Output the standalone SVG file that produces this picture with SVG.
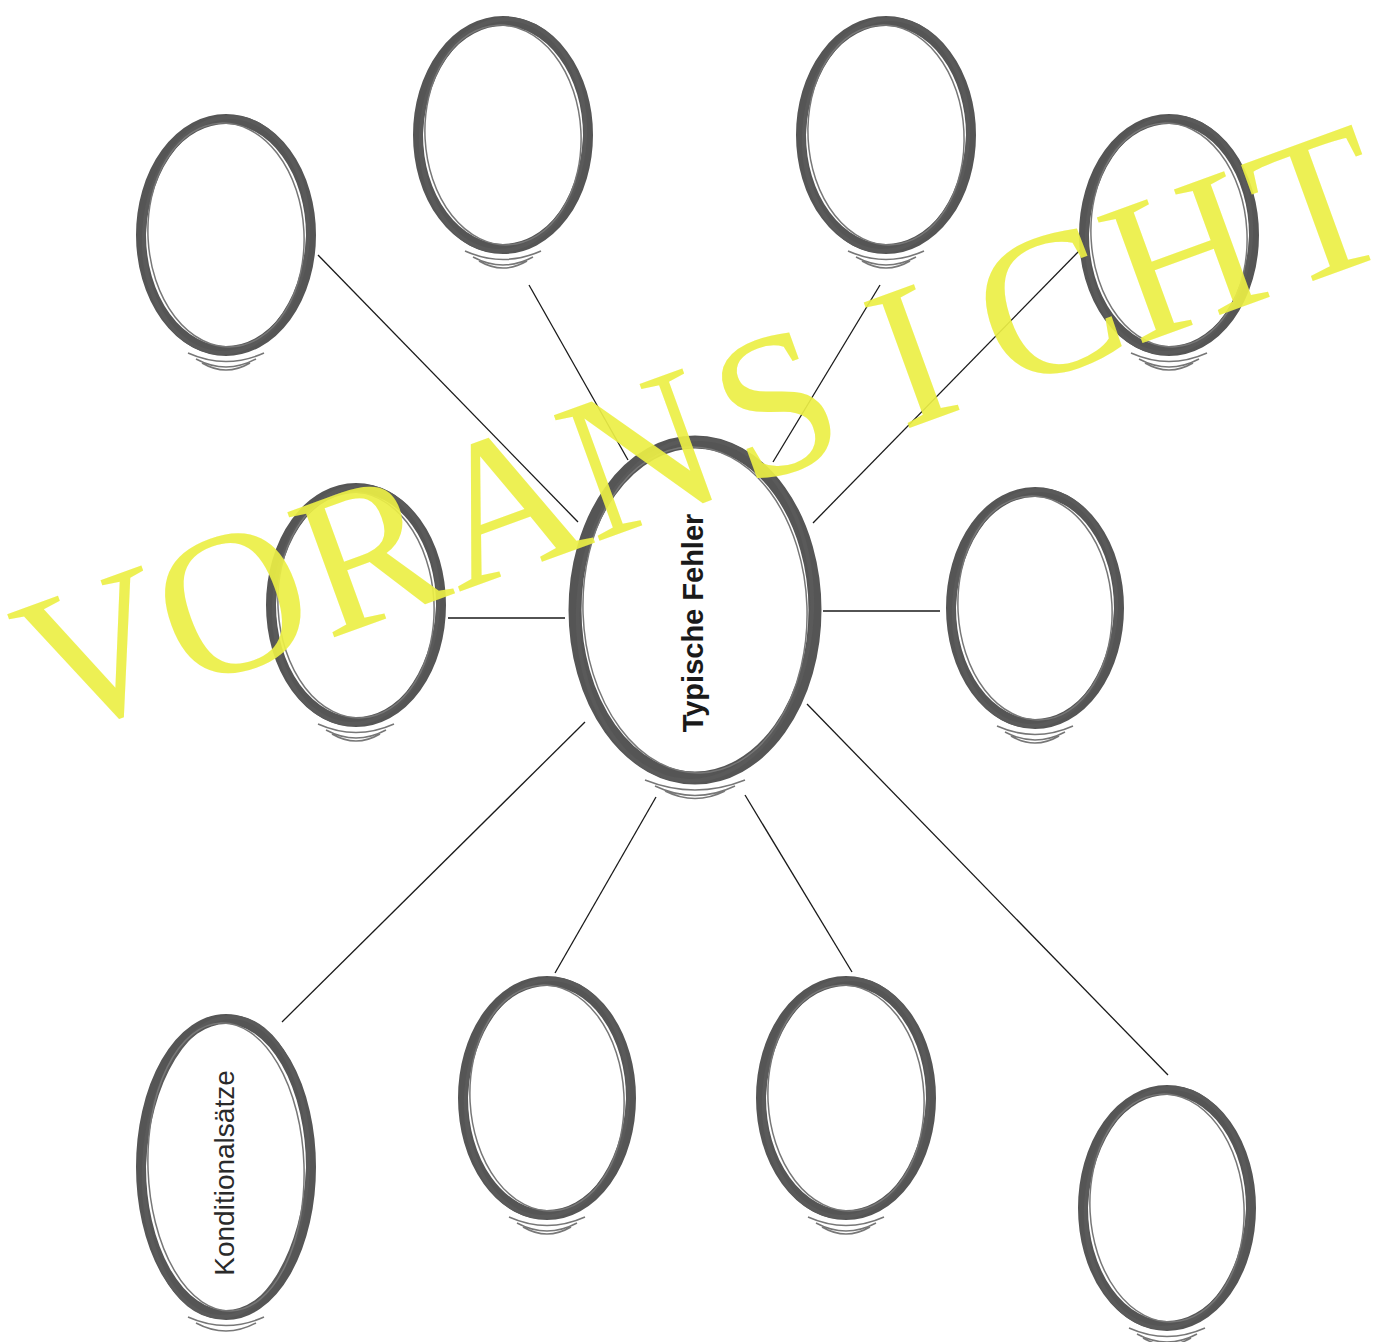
<svg xmlns="http://www.w3.org/2000/svg" width="1378" height="1342" viewBox="0 0 1378 1342">
<style>
.r1{fill:none;stroke:#555;stroke-width:10}
.r2{fill:none;stroke:#5a5a5a;stroke-width:4}
.r3{fill:none;stroke:#777;stroke-width:1.5}
.cn{stroke:#1a1a1a;stroke-width:1.3;fill:none}
.lbl{font-family:"Liberation Sans",Arial,sans-serif;fill:#1a1a1a}
.wm{font-family:"Liberation Serif","Times New Roman",serif;fill:#ecef45;fill-opacity:0.92}
</style>
<rect width="1378" height="1342" fill="#fff"/>
<g id="connectors">
<line class="cn" x1="318" y1="255" x2="578" y2="522"/>
<line class="cn" x1="529" y1="285" x2="628" y2="460"/>
<line class="cn" x1="880" y1="285" x2="773" y2="462"/>
<line class="cn" x1="1080" y1="250" x2="813" y2="523"/>
<line class="cn" x1="448" y1="618" x2="565" y2="618"/>
<line class="cn" x1="823" y1="611" x2="940" y2="611"/>
<line class="cn" x1="585" y1="722" x2="282" y2="1022"/>
<line class="cn" x1="656" y1="797" x2="555" y2="973"/>
<line class="cn" x1="745" y1="795" x2="852" y2="972"/>
<line class="cn" x1="807" y1="704" x2="1168" y2="1075"/>
</g>
<g id="node-tl" transform="translate(226,235)">
<ellipse class="r1" rx="85" ry="116"/><ellipse class="r2" rx="82" ry="118" transform="rotate(4)"/><ellipse class="r3" rx="78" ry="112" transform="rotate(-3)"/>
<path class="r3" d="M-38,118 Q0,135 38,118 M-30,124 Q0,140 30,124 M-24,128 Q0,142 24,128"/>
</g>
<g id="node-t2" transform="translate(503,135)">
<ellipse class="r1" rx="85" ry="114"/><ellipse class="r2" rx="82" ry="116" transform="rotate(4)"/><ellipse class="r3" rx="78" ry="110" transform="rotate(-3)"/>
<path class="r3" d="M-38,116 Q0,133 38,116 M-30,122 Q0,138 30,122 M-24,126 Q0,140 24,126"/>
</g>
<g id="node-t3" transform="translate(886,135)">
<ellipse class="r1" rx="85" ry="114"/><ellipse class="r2" rx="82" ry="116" transform="rotate(4)"/><ellipse class="r3" rx="78" ry="110" transform="rotate(-3)"/>
<path class="r3" d="M-38,116 Q0,133 38,116 M-30,122 Q0,138 30,122 M-24,126 Q0,140 24,126"/>
</g>
<g id="node-tr" transform="translate(1169,235)">
<ellipse class="r1" rx="85" ry="116"/><ellipse class="r2" rx="82" ry="118" transform="rotate(4)"/><ellipse class="r3" rx="78" ry="112" transform="rotate(-3)"/>
<path class="r3" d="M-38,118 Q0,135 38,118 M-30,124 Q0,140 30,124 M-24,128 Q0,142 24,128"/>
</g>
<g id="node-ml" transform="translate(356,605)">
<ellipse class="r1" rx="85" ry="117"/><ellipse class="r2" rx="82" ry="119" transform="rotate(4)"/><ellipse class="r3" rx="78" ry="113" transform="rotate(-3)"/>
<path class="r3" d="M-38,119 Q0,136 38,119 M-30,125 Q0,141 30,125 M-24,129 Q0,143 24,129"/>
</g>
<g id="node-center" transform="translate(695,610)">
<ellipse class="r1" rx="120" ry="168" style="stroke-width:13"/><ellipse class="r2" rx="117" ry="171" transform="rotate(3)"/><ellipse class="r3" rx="112" ry="163" transform="rotate(-2)"/>
<path class="r3" d="M-50,170 Q0,190 50,170 M-40,176 Q0,195 40,176 M-30,181 Q0,196 30,181"/>
<text class="lbl" transform="translate(8,13) rotate(-90)" text-anchor="middle" font-size="29" font-weight="bold">Typische Fehler</text>
</g>
<g id="node-mr" transform="translate(1035,608)">
<ellipse class="r1" rx="84" ry="116"/><ellipse class="r2" rx="81" ry="118" transform="rotate(4)"/><ellipse class="r3" rx="77" ry="112" transform="rotate(-3)"/>
<path class="r3" d="M-38,118 Q0,135 38,118 M-30,124 Q0,140 30,124 M-24,128 Q0,142 24,128"/>
</g>
<g id="node-bl" transform="translate(226,1167)">
<ellipse class="r1" rx="85" ry="148"/><ellipse class="r2" rx="82" ry="150" transform="rotate(3)"/><ellipse class="r3" rx="78" ry="144" transform="rotate(-2)"/>
<path class="r3" d="M-38,150 Q0,167 38,150 M-30,156 Q0,172 30,156"/>
<text class="lbl" transform="translate(8,6) rotate(-90)" text-anchor="middle" font-size="28" style="fill:#2a2a2a">Konditionalsätze</text>
</g>
<g id="node-b2" transform="translate(547,1098)">
<ellipse class="r1" rx="84" ry="117"/><ellipse class="r2" rx="81" ry="119" transform="rotate(4)"/><ellipse class="r3" rx="77" ry="113" transform="rotate(-3)"/>
<path class="r3" d="M-38,119 Q0,136 38,119 M-30,125 Q0,141 30,125 M-24,129 Q0,143 24,129"/>
</g>
<g id="node-b3" transform="translate(846,1098)">
<ellipse class="r1" rx="85" ry="117"/><ellipse class="r2" rx="82" ry="119" transform="rotate(4)"/><ellipse class="r3" rx="78" ry="113" transform="rotate(-3)"/>
<path class="r3" d="M-38,119 Q0,136 38,119 M-30,125 Q0,141 30,125 M-24,129 Q0,143 24,129"/>
</g>
<g id="node-br" transform="translate(1167,1208)">
<ellipse class="r1" rx="84" ry="118"/><ellipse class="r2" rx="81" ry="120" transform="rotate(4)"/><ellipse class="r3" rx="77" ry="114" transform="rotate(-3)"/>
<path class="r3" d="M-38,120 Q0,137 38,120 M-30,126 Q0,142 30,126 M-24,130 Q0,144 24,130"/>
</g>
<g id="watermark">
<text class="wm" transform="translate(52,740) rotate(-20)" font-size="204" x="-1.3 143.2 293.2 432.2 576.7 738.2 905.2 1015.7 1154.7 1310.3" y="0">VORANSICHT</text>
</g>
</svg>
